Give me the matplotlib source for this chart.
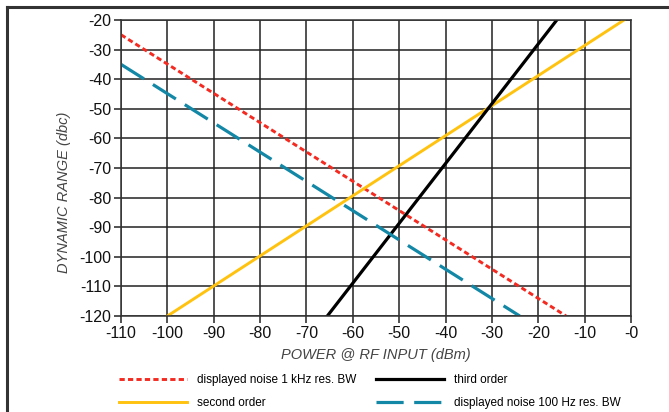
import matplotlib
matplotlib.use("Agg")
import matplotlib.pyplot as plt
from matplotlib.lines import Line2D

plt.rcParams['font.family'] = ['Liberation Sans', 'DejaVu Sans']
plt.rcParams['axes.unicode_minus'] = False

# Data (line endpoints)
noise_1k_x = [-110, -14]
noise_1k_y = [-25, -120]
second_x = [-100, -1.5]
second_y = [-120, -20]
third_x = [-65.5, -16]
third_y = [-120, -20]
noise_100_x = [-110, -24]
noise_100_y = [-35, -120]

x_ticks = [-110, -100, -90, -80, -70, -60, -50, -40, -30, -20, -10, 0]
x_tick_labels = ['-110', '-100', '-90', '-80', '-70', '-60', '-50', '-40', '-30', '-20', '-10', '-0']
y_ticks = [-120, -110, -100, -90, -80, -70, -60, -50, -40, -30, -20]

labels = ['displayed noise 1 kHz res. BW', 'second order', 'third order',
          'displayed noise 100 Hz res. BW']

RED = '#f42a21'
YEL = '#ffc20e'
BLK = '#000000'
BLU = '#1387a6'

fig = plt.figure(figsize=(6.69, 4.12), dpi=100)
ax = fig.add_axes([0.1809, 0.233, 0.7623, 0.7185])

ax.set_xlim(-110, 0)
ax.set_ylim(-120, -20)
ax.set_xticks(x_ticks)
ax.set_xticklabels(x_tick_labels)
ax.set_yticks(y_ticks)
ax.grid(True, color='#222222', linewidth=1.1)
ax.set_axisbelow(True)
for s in ax.spines.values():
    s.set_color('#333333')
    s.set_linewidth(1.1)
ax.tick_params(axis='both', direction='out', length=5, width=1.1, color='#222222',
               labelsize=11.5, labelcolor='#111111', pad=2)

lw = 2.1
l1, = ax.plot(noise_1k_x, noise_1k_y, color=RED, lw=lw, dashes=(1.8, 1.1), solid_capstyle='butt')
l2, = ax.plot(second_x, second_y, color=YEL, lw=lw)
l3, = ax.plot(third_x, third_y, color=BLK, lw=lw + 0.2)
l4, = ax.plot(noise_100_x, noise_100_y, color=BLU, lw=lw + 0.2, dashes=(8.5, 3.3))

ax.set_xlabel('POWER @ RF INPUT (dBm)', fontsize=10.5, style='italic', color='#444444', labelpad=5)
ax.set_ylabel('DYNAMIC RANGE (dbc)', fontsize=10.5, style='italic', color='#444444')
ax.yaxis.set_label_coords(-0.099, 0.419)

leg = fig.legend([l1, l2, l3, l4], labels, ncol=2, loc='upper left',
                 bbox_to_anchor=(0.1785, 0.092), frameon=False, fontsize=8.5,
                 handlelength=5.7, handletextpad=0.85, columnspacing=1.72,
                 labelspacing=0.9, borderaxespad=0, borderpad=0)

# figure frame (top and left)
fig.add_artist(Line2D([0.0105, 0.0105], [0, 0.983], transform=fig.transFigure,
                      color='#333333', lw=2.2))
fig.add_artist(Line2D([0.0105, 1.0], [0.983, 0.983], transform=fig.transFigure,
                      color='#333333', lw=2.2))

fig.savefig('out.png', dpi=100)
